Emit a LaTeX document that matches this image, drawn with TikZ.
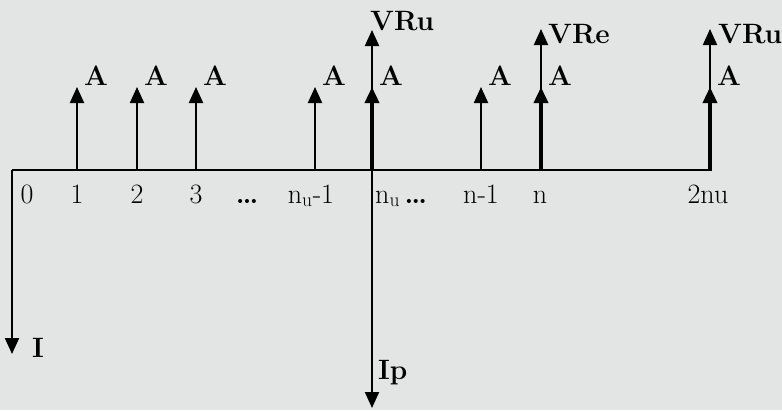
\documentclass[tikz,border=0pt]{standalone}
\usepackage{fontspec}
\usepackage{tikz}
\usetikzlibrary{arrows.meta}
\definecolor{paper}{RGB}{226,229,228}
\newcommand{\cfsize}{\fontsize{28pt}{32pt}\selectfont}

\begin{document}
\begin{tikzpicture}[x=1pt,y=-1pt,
    flow/.style={-{Triangle[width=14pt,length=16pt]},line width=2pt},
    lbl/.style={font=\cfsize\bfseries,inner sep=0pt},
    tick/.style={font=\cfsize,inner sep=0pt,anchor=base}]
    \fill[paper] (0,0) rectangle (782,410);
    \useasboundingbox (0,0) rectangle (782,410);

    % time line
    \coordinate (t0) at (12,170);
    \coordinate (tend) at (712,170);
    \draw[line width=2pt] (t0) -- (tend);

    % periods
    \node[tick] (p0) at (27,203) {0};
    \node[tick] (p1) at (77,203) {1};
    \node[tick] (p2) at (137,203) {2};
    \node[tick] (p3) at (196,203) {3};
    \node[tick] (pd) at (247,203) {\bfseries\dots};
    \node[tick] (p4) at (311,203) {n\textsubscript{u}-1};
    \node[tick,anchor=base west] (p5) at (375,203) {n\textsubscript{u}\,{\bfseries\dots}};
    \node[tick] (p6) at (481,203) {n-1};
    \node[tick] (p7) at (540,203) {n};
    \node[tick] (p8) at (708,203) {2nu};

    % receipts A
    \foreach \x/\nm/\w in {77/a1/2,137/a2/2,196/a3/2,315/a4/2,
                           372/a5/3.5,481/a6/2,541/a7/3.5,710/a8/3.5} {
        \coordinate (\nm b) at (\x,170);
        \coordinate (\nm t) at (\x,87);
        \node[lbl,anchor=west] (\nm l) at (\x+7,76) {A};
        \path[flow,line width=\w pt] (\nm b) edge (\nm t);
    }

    % residual values
    \coordinate (r1b) at (372,170);
    \coordinate (r1t) at (372,30);
    \node[lbl,anchor=west] (r1l) at (370,21) {VRu};
    \coordinate (r2b) at (541,170);
    \coordinate (r2t) at (541,29);
    \node[lbl,anchor=west] (r2l) at (548,34) {VRe};
    \coordinate (r3b) at (710,170);
    \coordinate (r3t) at (710,29);
    \node[lbl,anchor=west] (r3l) at (718,34) {VRu};
    \path[flow] (r1b) edge (r1t);
    \path[flow] (r2b) edge (r2t);
    \path[flow] (r3b) edge (r3t);

    % investments
    \coordinate (i1t) at (12,170);
    \coordinate (i1b) at (12,354);
    \node[lbl,anchor=west] (i1l) at (32,348) {I};
    \coordinate (i2t) at (372,170);
    \coordinate (i2b) at (372,408);
    \node[lbl,anchor=west] (i2l) at (378,373) {Ip};
    \path[flow] (i1t) edge (i1b);
    \path[flow] (i2t) edge (i2b);
\end{tikzpicture}
\end{document}
